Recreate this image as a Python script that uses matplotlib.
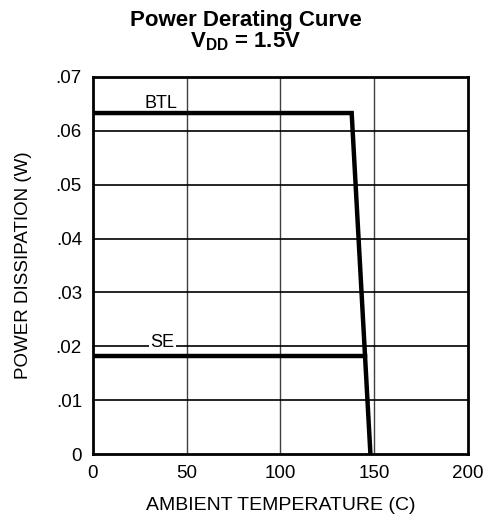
import matplotlib
matplotlib.use("Agg")
import matplotlib.pyplot as plt

plt.rcParams['font.family'] = ['Liberation Sans', 'DejaVu Sans']
plt.rcParams['mathtext.fontset'] = 'custom'
plt.rcParams['mathtext.rm'] = 'Liberation Sans'
plt.rcParams['mathtext.bf'] = 'Liberation Sans:bold'

btl_temp = [0, 138, 148]
btl_power = [0.0633, 0.0633, 0.0]
se_temp = [0, 145.1]
se_power = [0.0182, 0.0182]
x_ticks = [0, 50, 100, 150, 200]
x_labels = ['0', '50', '100', '150', '200']
y_ticks = [0, 0.01, 0.02, 0.03, 0.04, 0.05, 0.06, 0.07]
y_labels = ['0', '.01', '.02', '.03', '.04', '.05', '.06', '.07']

fig = plt.figure(figsize=(4.92, 5.27), dpi=100)
ax = fig.add_axes([0.189, 0.1385, 0.762, 0.7155])

for x in [50, 100, 150]:
    ax.axvline(x, color='#404040', lw=1.0, zorder=1)
for y in y_ticks[1:-1]:
    ax.axhline(y, color='black', lw=1.2, zorder=1)

ax.plot(btl_temp, btl_power, color='black', lw=3.2, solid_joinstyle='miter', zorder=3)
ax.plot(se_temp, se_power, color='black', lw=3.2, zorder=3)

ax.text(36.5, 0.0650, 'BTL', fontsize=13, ha='center', va='center')
ax.text(37, 0.0207, 'SE', fontsize=13, ha='center', va='center',
        bbox=dict(facecolor='white', edgecolor='none', pad=1))

ax.set_xlim(0, 200)
ax.set_ylim(0, 0.07)
ax.set_xticks(x_ticks)
ax.set_xticklabels(x_labels, fontsize=13.5)
ax.set_yticks(y_ticks)
ax.set_yticklabels(y_labels, fontsize=13.5)
ax.tick_params(length=0, pad=8)
for s in ax.spines.values():
    s.set_linewidth(2)

ax.set_xlabel('AMBIENT TEMPERATURE (C)', fontsize=14, labelpad=11)
ax.set_ylabel('POWER DISSIPATION (W)', fontsize=13.5, labelpad=17)

fig.text(0.5, 0.962, 'Power Derating Curve', fontsize=16, fontweight='bold', ha='center', va='center')
fig.text(0.5, 0.920, r'$\mathbf{V_{DD}}$' + ' = 1.5V', fontsize=16, fontweight='bold', ha='center', va='center')

fig.savefig('out.png', dpi=100)
